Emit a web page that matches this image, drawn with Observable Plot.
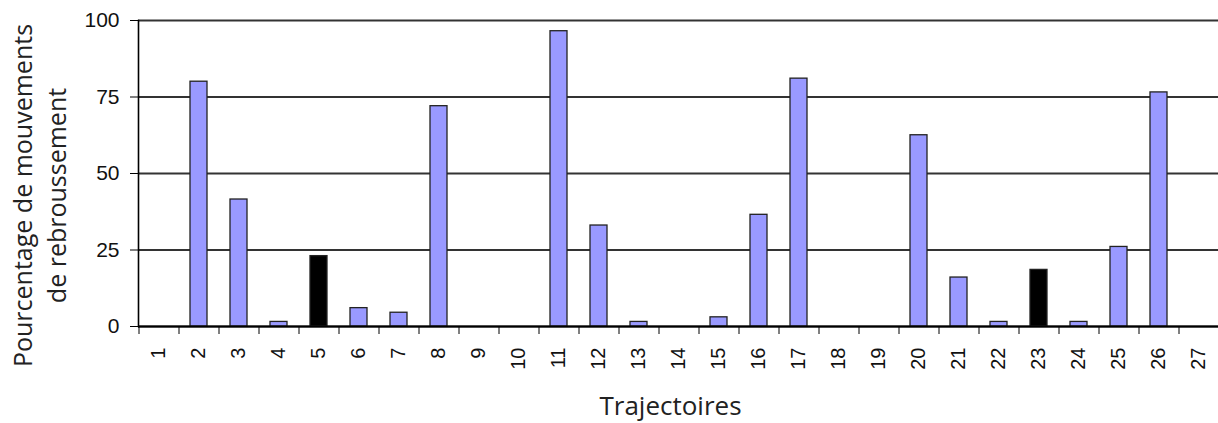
<!DOCTYPE html>
<html><head><meta charset="utf-8">
<script src="https://cdn.jsdelivr.net/npm/d3@7"></script>
<script src="https://cdn.jsdelivr.net/npm/@observablehq/plot@0.6"></script>
<style>body{margin:0;background:#fff} svg{display:block}</style>
</head><body><div id="chart"></div>
<script>
const trajectoires = [1,2,3,4,5,6,7,8,9,10,11,12,13,14,15,16,17,18,19,20,21,22,23,24,25,26,27];
const pourcentages = [0,80,41.5,1.5,23,6,4.5,72,0,0,96.5,33,1.5,0,3,36.5,81,0,0,62.5,16,1.5,18.5,1.5,26,76.5,0];
const surlignees = [5, 23];
const yTicks = [0,25,50,75,100];
const xLabel = "Trajectoires";
const yLabel = "Pourcentage de mouvements\nde rebroussement";

const data = trajectoires.map((t, i) => ({t, v: pourcentages[i], hl: surlignees.includes(t)}));

const W = 1218, ML = 138, MR = 0;
const step = (W - ML - MR) / trajectoires.length;

const chart = Plot.plot({
  width: W, height: 423,
  marginLeft: ML, marginRight: MR, marginTop: 20, marginBottom: 97,
  style: {fontFamily: "'Liberation Sans', Arial, sans-serif", background: "#fff", color: "#000", overflow: "visible"},
  x: {domain: trajectoires, paddingInner: 0.58, paddingOuter: 0.29},
  y: {domain: [0, 100]},
  marks: [
    Plot.ruleY(yTicks, {stroke: "#333", strokeWidth: 1.8}),
    Plot.frame({anchor: "left", stroke: "#000", strokeWidth: 1.6}),
    Plot.barY(data, {x: "t", y: "v", fill: d => d.hl ? "#000" : "#9999ff", stroke: "#222", strokeWidth: 1.3}),
    Plot.ruleY([0], {stroke: "#000", strokeWidth: 1.8}),
    Plot.axisY({ticks: yTicks, tickSize: 8, tickPadding: 11, fontSize: 21, label: null, stroke: "#000", fill: "#111"}),
    Plot.axisX({tickSize: 8, dx: -step / 2, text: null, label: null, stroke: "#000"}),
    Plot.axisX({tickSize: 0, tickRotate: -90, tickPadding: 21, fontSize: 20, label: null, fill: "#111"}),
    Plot.text([xLabel], {frameAnchor: "bottom", dx: -8, dy: 88, fontSize: 26, fontFamily: "'Open Sans', sans-serif", fill: "#222"}),
    Plot.text([yLabel], {frameAnchor: "left", textAnchor: "middle", rotate: -90, dx: -100, dy: 22, fontSize: 25, lineHeight: 1.34, fontFamily: "'Open Sans', sans-serif", fill: "#222"})
  ]
});
document.getElementById("chart").appendChild(chart);
</script>
</body></html>
